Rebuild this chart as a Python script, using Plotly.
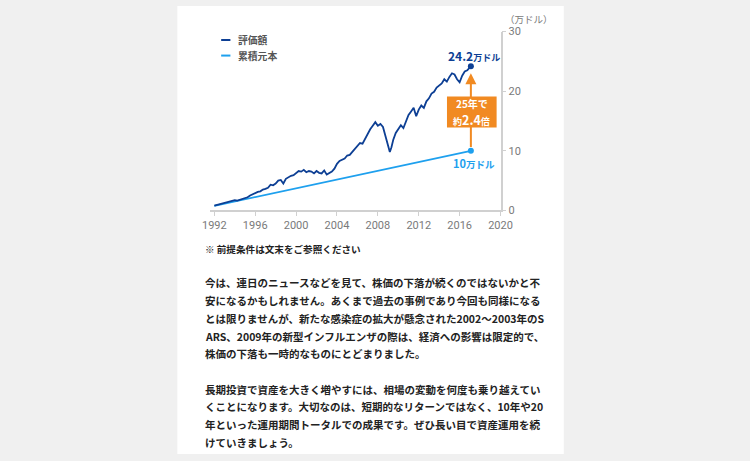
import plotly.graph_objects as go

# ---------------- data ----------------
years = [1992.0, 1992.25, 1992.5, 1992.75, 1993.0, 1993.25, 1993.5, 1993.75,
         1994.0, 1994.25, 1994.5, 1994.75, 1995.0, 1995.25, 1995.5, 1995.75,
         1996.0, 1996.25, 1996.5, 1996.75, 1997.0, 1997.25, 1997.5, 1997.75,
         1998.0, 1998.25, 1998.5, 1998.75, 1999.0, 1999.25, 1999.5, 1999.75,
         2000.0, 2000.25, 2000.5, 2000.75, 2001.0, 2001.25, 2001.5, 2001.75,
         2002.0, 2002.25, 2002.5, 2002.75, 2003.0, 2003.25, 2003.5, 2003.75,
         2004.0, 2004.25, 2004.5, 2004.75, 2005.0, 2005.25, 2005.5, 2005.75,
         2006.0, 2006.25, 2006.5, 2006.75, 2007.0, 2007.25, 2007.5, 2007.75,
         2008.0, 2008.25, 2008.5, 2008.75, 2009.0, 2009.17, 2009.33, 2009.5, 2009.75,
         2010.0, 2010.25, 2010.5, 2010.75, 2011.0, 2011.25, 2011.5, 2011.75,
         2012.0, 2012.25, 2012.5, 2012.75, 2013.0, 2013.25, 2013.5, 2013.75,
         2014.0, 2014.25, 2014.5, 2014.75, 2015.0, 2015.25, 2015.5, 2015.75,
         2016.0, 2016.25, 2016.5, 2016.75, 2017.1]
valuation = [0.8, 0.9, 1.0, 1.1, 1.2, 1.35, 1.4, 1.6,
             1.7, 1.65, 1.8, 1.9, 2.0, 2.2, 2.5, 2.7,
             3.0, 3.1, 3.2, 3.5, 3.6, 3.8, 4.3, 4.2,
             4.5, 5.0, 5.1, 4.5, 5.3, 5.6, 5.8, 5.9,
             6.3, 6.6, 6.5, 6.8, 6.4, 6.6, 6.5, 6.2,
             6.6, 6.3, 6.2, 6.7, 6.0, 6.2, 6.5, 7.0,
             7.8, 8.3, 8.5, 8.7, 9.2, 9.3, 9.8, 10.3,
             10.8, 11.3, 11.2, 12.0, 13.0, 13.6, 14.2, 14.8,
             14.2, 14.5, 14.0, 12.5, 10.8, 9.8, 10.6, 11.8, 13.0,
             13.6, 14.3, 13.8, 15.0, 16.0, 16.6, 17.2, 15.8,
             16.9, 17.6, 17.2, 18.3, 18.8, 19.6, 19.9, 20.6,
             20.9, 21.3, 22.0, 21.6, 22.4, 23.0, 22.8, 22.0,
             21.5, 22.6, 23.3, 23.5, 24.2]
principal_years = [1992.0, 2017.1]
principal = [0.75, 10.0]

x_ticks = [1992, 1996, 2000, 2004, 2008, 2012, 2016, 2020]
y_ticks = [0, 10, 20, 30]

series_names = ["評価額", "累積元本"]
final_value_label = "24.2"
final_principal_label = "10"
growth_line1 = "25年で"
growth_multiple = "2.4"

body_note = "※ 前提条件は文末をご参照ください"
body_lines = [
    "今は、連日のニュースなどを見て、株価の下落が続くのではないかと不",
    "安になるかもしれません。あくまで過去の事例であり今回も同様になる",
    "とは限りませんが、新たな感染症の拡大が懸念された2002～2003年のS",
    "ARS、2009年の新型インフルエンザの際は、経済への影響は限定的で、",
    "株価の下落も一時的なものにとどまりました。",
    "",
    "長期投資で資産を大きく増やすには、相場の変動を何度も乗り越えてい",
    "くことになります。大切なのは、短期的なリターンではなく、10年や20",
    "年といった運用期間トータルでの成果です。ぜひ長い目で資産運用を続",
    "けていきましょう。",
]

# ---------------- style ----------------
W, H = 750, 461
DARK = "#0d3f94"
LIGHT = "#1ea0ee"
ORANGE = "#f18a22"
AXIS = "#d0d0d0"
TICKTXT = "#7a7a7a"
JP = "Noto Sans CJK JP"


def px(x):
    return x / W


def py(y):
    return 1 - y / H


fig = go.Figure()

fig.add_trace(go.Scatter(x=principal_years, y=principal, mode="lines",
                         line=dict(color=LIGHT, width=1.8), name=series_names[1],
                         hoverinfo="skip"))
fig.add_trace(go.Scatter(x=years, y=valuation, mode="lines",
                         line=dict(color=DARK, width=1.8), name=series_names[0],
                         hoverinfo="skip"))
fig.add_trace(go.Scatter(x=[principal_years[-1]], y=[principal[-1]], mode="markers",
                         marker=dict(color=LIGHT, size=6), hoverinfo="skip"))
fig.add_trace(go.Scatter(x=[years[-1]], y=[valuation[-1]], mode="markers",
                         marker=dict(color=DARK, size=6), hoverinfo="skip"))

# arrow from principal to valuation
fig.add_annotation(x=years[-1], y=valuation[-1] - 1.2, xref="x", yref="y",
                   ax=principal_years[-1], ay=principal[-1] + 0.4, axref="x", ayref="y",
                   text="", showarrow=True, arrowhead=2, arrowsize=1.1,
                   arrowwidth=2, arrowcolor=ORANGE)

# orange box (shape) with two text lines
fig.add_shape(type="rect", xref="paper", yref="paper",
              x0=px(451), x1=px(502), y0=py(125), y1=py(93),
              fillcolor=ORANGE, line=dict(width=0), layer="above")
fig.add_annotation(x=px(476.5), y=py(100.5), xref="paper", yref="paper",
                   xanchor="center", yanchor="middle", showarrow=False,
                   text=f"<b>{growth_line1}</b>", borderpad=0,
                   font=dict(family=JP, size=10, color="white"))
fig.add_annotation(x=px(476.5), y=py(116.5), xref="paper", yref="paper",
                   xanchor="center", yanchor="middle", showarrow=False,
                   text=f"<b>約<span style='font-size:12.5px'>{growth_multiple}</span>倍</b>",
                   borderpad=0, font=dict(family=JP, size=9, color="white"))

# value labels
fig.add_annotation(x=px(479), y=py(51), xref="paper", yref="paper",
                   xanchor="center", yanchor="middle", showarrow=False,
                   text=f"<b>{final_value_label}<span style='font-size:9px'>万ドル</span></b>",
                   font=dict(family=JP, size=12, color=DARK))
fig.add_annotation(x=px(479), y=py(162), xref="paper", yref="paper",
                   xanchor="center", yanchor="middle", showarrow=False,
                   text=f"<b>{final_principal_label}<span style='font-size:9.5px'>万ドル</span></b>",
                   font=dict(family=JP, size=11, color=LIGHT))

# unit label
fig.add_annotation(x=px(509), y=py(13), xref="paper", yref="paper",
                   xanchor="left", yanchor="middle", showarrow=False,
                   text="（万ドル）", font=dict(family=JP, size=9.5, color=TICKTXT))

# legend
for i, (name, col) in enumerate(zip(series_names, [DARK, LIGHT])):
    yy = 35 + 16 * i
    fig.add_shape(type="line", xref="paper", yref="paper",
                  x0=px(219), x1=px(228.5), y0=py(yy), y1=py(yy),
                  line=dict(color=col, width=2))
    fig.add_annotation(x=px(234), y=py(yy), xref="paper", yref="paper",
                       xanchor="left", yanchor="middle", showarrow=False,
                       text=f"<b>{name}</b>", font=dict(family=JP, size=9.8, color="#555555"))

# body text
fig.add_annotation(x=px(200), y=py(250), xref="paper", yref="paper",
                   xanchor="left", yanchor="middle", showarrow=False,
                   text=f"<b>{body_note}</b>", font=dict(family=JP, size=9.6, color="#222222"))
for i, line in enumerate(body_lines):
    if not line:
        continue
    fig.add_annotation(x=px(200), y=py(285 + 18.2 * i), xref="paper", yref="paper",
                       xanchor="left", yanchor="middle", showarrow=False,
                       text=f"<b>{line}</b>", font=dict(family=JP, size=10.5, color="#222222"))

# white panel
fig.add_shape(type="rect", xref="paper", yref="paper", x0=px(174), x1=px(571),
              y0=0, y1=1, fillcolor="white", line=dict(width=0), layer="below")

x_left_px, x_right_px = 208, 506
yr_per_px = 1 / 10.5
fig.update_layout(
    width=W, height=H, margin=dict(l=0, r=0, t=0, b=0),
    paper_bgcolor="#f0f0f0", plot_bgcolor="rgba(0,0,0,0)",
    showlegend=False,
    xaxis=dict(domain=[px(x_left_px), px(x_right_px)],
               range=[1992 - (212 - x_left_px) * yr_per_px, 2020],
               tickvals=x_ticks, ticks="outside", ticklen=4, tickcolor=AXIS,
               showline=True, linecolor=AXIS, linewidth=1.5, showgrid=False,
               zeroline=False, tickfont=dict(family="Roboto", size=11, color=TICKTXT)),
    yaxis=dict(domain=[py(210.3), py(26.3)], range=[0, 30], side="right",
               anchor="x",
               tickvals=y_ticks, ticks="outside", ticklen=4, tickcolor=AXIS,
               showline=True, linecolor=AXIS, linewidth=1.5, showgrid=False,
               zeroline=False, tickfont=dict(family="Roboto", size=11, color=TICKTXT)),
)

fig.write_html("out.html", config={"displayModeBar": False})
